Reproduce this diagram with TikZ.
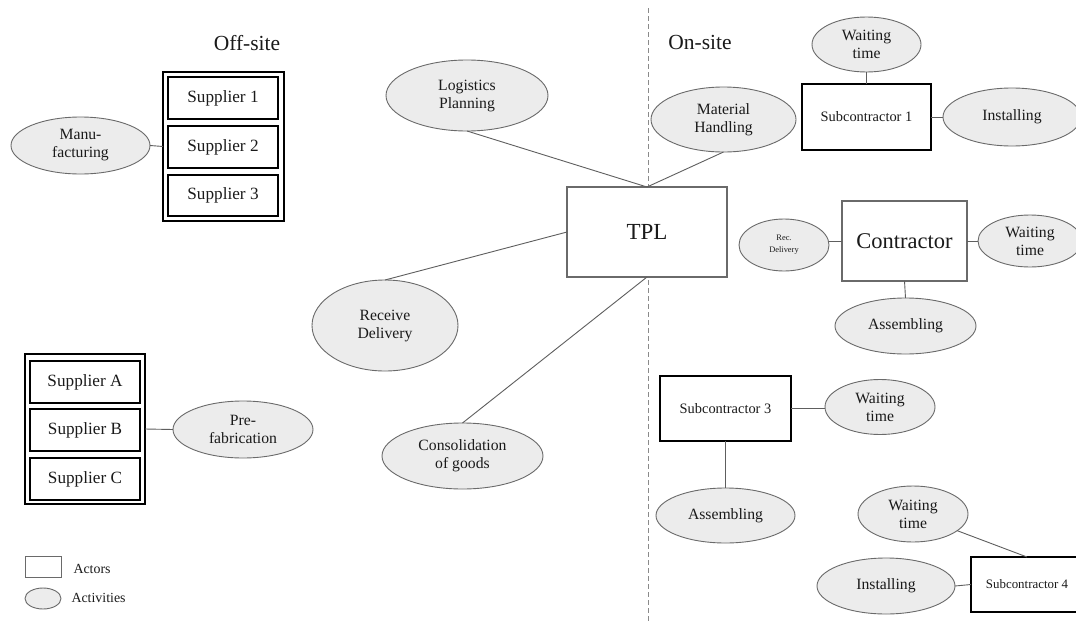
\documentclass[tikz,border=0pt]{standalone}
\usepackage{fontspec}
\setmainfont{Liberation Serif}
\usetikzlibrary{shapes.geometric}

\definecolor{actfill}{HTML}{ECECEC}
\definecolor{actline}{HTML}{6A6A6A}
\definecolor{linkc}{HTML}{5E5E5E}
\definecolor{divc}{HTML}{8A8A8A}
\definecolor{inkc}{HTML}{1A1A1A}

\begin{document}
\begin{tikzpicture}[x=1pt,y=-1pt,
  every node/.style={text=inkc},
  actor/.style={draw=black, line width=1.2pt, fill=white, inner sep=0pt,
    outer sep=0pt, align=center},
  softactor/.style={actor, draw=actline},
  supbox/.style={actor, minimum width=110pt, minimum height=42pt,
    font=\fontsize{17.2}{20}\selectfont},
  subbox/.style={actor, font=\fontsize{14.4}{17}\selectfont},
  activity/.style={ellipse, draw=actline, line width=0.9pt, fill=actfill,
    inner sep=0pt, outer sep=0pt, align=center,
    font=\fontsize{15.7}{18}\selectfont},
  link/.style={draw=linkc, line width=0.9pt},
  sitelabel/.style={font=\fontsize{21.5}{24}\selectfont},
  legendtext/.style={font=\fontsize{13.9}{16}\selectfont, anchor=west}]

\clip (0,0) rectangle (1076,621);
\fill[white] (0,0) rectangle (1076,621);

% site divider
\coordinate (divtop) at (648,8);
\coordinate (divbot) at (648,621);
\draw[divc, line width=1pt, dash pattern=on 5pt off 3pt] (divtop) -- (divbot);

\node[sitelabel] (offsite) at (247,43) {Off-site};
\node[sitelabel] (onsite) at (700,42) {On-site};

% off-site supplier groups
\node[actor, minimum width=121pt, minimum height=149pt] (grpnum) at (223.5,146.5) {};
\node[supbox] (sup1) at (223,98) {Supplier 1};
\node[supbox] (sup2) at (223,147) {Supplier 2};
\node[supbox, minimum height=41pt] (sup3) at (223,195.5) {Supplier 3};

\node[actor, minimum width=120pt, minimum height=150pt] (grplet) at (85,429) {};
\node[supbox] (supA) at (85,382) {Supplier A};
\node[supbox] (supB) at (85,430) {Supplier B};
\node[supbox] (supC) at (85,479) {Supplier C};

\node[activity, minimum width=139pt, minimum height=57pt] (manu) at (80.5,145.5) {Manu-\\facturing};
\node[activity, minimum width=140pt, minimum height=57pt] (prefab) at (243,429.5) {Pre-\\fabrication};

% third-party logistics provider
\node[softactor, minimum width=160pt, minimum height=90pt,
  font=\fontsize{23}{26}\selectfont] (tpl) at (647,232) {TPL};
\node[activity, minimum width=162pt, minimum height=71pt] (logplan) at (467,95.5) {Logistics\\Planning};
\node[activity, minimum width=146pt, minimum height=91pt] (recdel) at (385,325.5) {Receive\\Delivery};
\node[activity, minimum width=161pt, minimum height=66pt] (consol) at (462.5,456) {Consolidation\\of goods};
\node[activity, minimum width=145pt, minimum height=65pt] (mathand) at (723.5,119.5) {Material\\Handling};

% subcontractor 1
\node[subbox, minimum width=129pt, minimum height=66pt] (sub1) at (866.5,117) {Subcontractor 1};
\node[activity, minimum width=109pt, minimum height=55pt] (wait1) at (866.5,44.5) {Waiting\\time};
\node[activity, minimum width=138pt, minimum height=58pt] (inst1) at (1012,117) {Installing};

% contractor
\node[softactor, minimum width=125pt, minimum height=80pt,
  font=\fontsize{22.5}{26}\selectfont] (contr) at (904.5,241) {Contractor};
\node[activity, minimum width=90pt, minimum height=52pt,
  font=\fontsize{8.4}{12}\selectfont] (recdel2) at (784,245) {Rec.\\Delivery};
\node[activity, minimum width=104pt, minimum height=52pt] (wait2) at (1030,241) {Waiting\\time};
\node[activity, minimum width=141pt, minimum height=56pt] (asm1) at (905.5,326) {Assembling};

% subcontractor 3
\node[subbox, minimum width=131pt, minimum height=65pt] (sub3) at (725.5,408.5) {Subcontractor 3};
\node[activity, minimum width=110pt, minimum height=55pt] (wait3) at (880,407) {Waiting\\time};
\node[activity, minimum width=139pt, minimum height=55pt] (asm3) at (725.5,515.5) {Assembling};

% subcontractor 4
\node[subbox, minimum width=112pt, minimum height=55pt,
  font=\fontsize{12.9}{15}\selectfont] (sub4) at (1027,584.5) {Subcontractor 4};
\node[activity, minimum width=110pt, minimum height=56pt] (wait4) at (913,514) {Waiting\\time};
\node[activity, minimum width=138pt, minimum height=56pt] (inst4) at (886,586) {Installing};

% legend
\node[softactor, line width=1pt, minimum width=36pt, minimum height=21pt] (legact) at (43,566.5) {};
\node[activity, minimum width=36pt, minimum height=21pt] (legactv) at (43,598.5) {};
\node[legendtext] (legacttxt) at (70,569) {Actors};
\node[legendtext] (legactvtxt) at (68,598) {Activities};

% connectors
\draw[link] (manu.east) -- (grpnum.west);
\draw[link] (grplet.east) -- (prefab.west);
\draw[link] (logplan.south) -- (tpl.north);
\draw[link] (mathand.south) -- (tpl.north);
\draw[link] (tpl.west) -- (recdel.north);
\draw[link] (tpl.south) -- (consol.north);
\draw[link] (wait1.south) -- (sub1.north);
\draw[link] (sub1.east) -- (inst1.west);
\draw[link] (contr.west) -- (contr.west -| recdel2.east);
\draw[link] (contr.east) -- (wait2.west);
\draw[link] (contr.south) -- (asm1.north);
\draw[link] (sub3.east) -- (sub3.east -| wait3.west);
\draw[link] (sub3.south) -- (asm3.north);
\draw[link] (wait4) -- (sub4.north);
\draw[link] (inst4.east) -- (sub4.west);
\end{tikzpicture}
\end{document}
